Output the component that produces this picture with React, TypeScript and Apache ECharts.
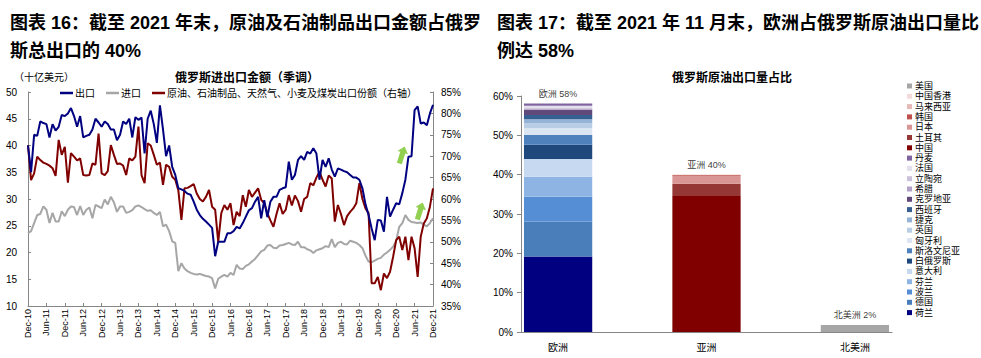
import React, { useEffect, useRef } from "react";
import * as echarts from "echarts";

// ---------- Chart 16 data (monthly, Dec-10 .. Dec-21) ----------
const monthNames = ["Jan", "Feb", "Mar", "Apr", "May", "Jun", "Jul", "Aug", "Sep", "Oct", "Nov", "Dec"];
const months: string[] = [];
for (let i = 0; i < 133; i++) {
  const mi = (11 + i) % 12;
  const yr = 10 + Math.floor((11 + i) / 12);
  months.push(monthNames[mi] + "-" + String(yr).padStart(2, "0"));
}

const exportsBn = [
  40, 35, 42, 41.8, 44.5, 44.2, 44, 41.5, 44, 42.8, 43.5, 45.7,
  45.5, 46, 47, 45.5, 43.5, 45.5, 41.5, 41.8, 42, 43, 45, 44.3,
  43.5, 44.5, 44, 43, 43, 41, 42, 44.5, 44, 45, 41.5, 45.3,
  44.8, 45.2, 38.5, 45, 46.5, 44, 40.5, 47.5, 43, 38, 40, 36,
  34.5, 32, 31.8, 31.5, 31, 30.8, 29.5, 28, 27, 26.3, 25.8, 25.2,
  24.6, 19.3, 22, 22, 22, 23.6, 23.6, 24, 24.8, 24.5, 25.5, 26.7,
  27.9, 28.3, 29.5, 30.4, 26.4, 29.8, 26.6, 29.5, 30.4, 30.4, 31.7, 32,
  32.2, 37, 33.6, 34.5, 37.3, 38, 37.3, 38.8, 38.5, 39.5, 38.5, 33.6,
  37.3, 36, 37.6, 35.5, 34.2, 35.7, 35.5, 35.2, 35, 34.5, 34, 34,
  33.6, 32, 29, 27, 24.5, 22.3, 26.1, 26, 23.9, 30.4, 26.7, 28,
  29.2, 29, 31.1, 33.6, 37.9, 38, 46.6, 47.3, 44.1, 44.3, 43.8, 46,
  47.6,
];

const importsBn = [
  23.6, 24, 25.5, 27, 27.2, 28.6, 28, 25.5, 27.4, 25.8, 25.8, 27.7,
  26.8, 28, 28.6, 28.5, 27, 28.7, 27, 28, 28.4, 26.4, 28.9, 28.6,
  28.3, 29.9, 29, 30.4, 29.4, 27.6, 28.6, 28.6, 27.4, 27.6, 27.9, 28.6,
  28.8, 28.5, 28.1, 27.8, 27.9, 27.4, 27, 27.6, 24.9, 25.2, 24, 22.1,
  21.8, 16.5, 18, 17, 16.5, 16.2, 16, 15.9, 16, 15.8, 15.6, 15.5,
  15.2, 13.3, 15.1, 15.5, 15.8, 15.5, 16.2, 15.8, 17.7, 17, 16.9, 17.5,
  17.8, 18.3, 18.8, 19.5, 20.2, 20.5, 21.3, 21.4, 20.9, 20.8, 21.3, 21.4,
  21.6, 21.8, 21.5, 21.4, 22, 21, 21, 20.6, 20.4, 19.9, 20.4, 20.6,
  20.8, 21.2, 21, 22.5, 21, 21.8, 22, 21.6, 21.5, 22.2, 22, 21.8,
  21.4, 20.8, 19.4, 18.3, 18.2, 18.5, 18.8, 19, 19.6, 20, 20.5, 21.1,
  22.2, 24.8, 25.5, 27, 26.1, 25.7, 25.6, 25.5, 25.6, 25.2, 24.9, 25.5,
  26.4,
];

const energyShare = [
  72.6, 64.4, 66, 69.9, 69.1, 68.5, 68.2, 67.8, 67.2, 65.4, 73.8, 70.3,
  72.2, 63.8, 70.7, 69.9, 69, 69.5, 65.6, 65.5, 65.6, 68.3, 68, 75.3,
  66, 65.6, 66.5, 72.6, 70.3, 68.2, 68.3, 67.8, 65.6, 69.5, 69, 69.9,
  76.9, 65.6, 63.7, 73, 72.5, 70.3, 68, 68.5, 63.3, 68, 67.5, 65.2,
  64.5, 62, 55.1, 62.5, 62.6, 63, 63.5, 61.3, 60, 59.4, 60.5, 62.1,
  58.2, 57.5, 50, 56.7, 58.6, 57.5, 59, 53.9, 57, 56, 60.9, 58.2,
  62.1, 60.5, 61.5, 62.5, 59.8, 59, 56.7, 55, 53.5, 56.5, 59, 56.5,
  57.5, 60.9, 58.5, 60.8, 59.5, 57, 60, 60.5, 63.7, 63.2, 65, 66.4,
  64.5, 62.9, 65.5, 64.8, 54.7, 58.6, 56.5, 53.9, 56, 57, 57.8, 59,
  63.7, 60, 57.8, 56.7, 40.3, 40.3, 41.8, 38.7, 42.6, 41.5, 43, 46.5,
  50.4, 51.2, 48.1, 51.2, 45.7, 51.2, 48.5, 41.8, 51.2, 54.3, 55.5, 58.2,
  62.5,
];

const seriesNames16 = ["出口", "进口", "原油、石油制品、天然气、小麦及煤炭出口份额（右轴）"];

// ---------- Chart 17 data (share of Russian crude exports, %) ----------
const regions = ["欧洲", " ", "亚洲", "  ", "北美洲"];
const regionTotalsLabel = [58, 40, 2];
const europeCountries = ["荷兰", "德国", "波兰", "芬兰", "意大利", "白俄罗斯", "斯洛文尼亚", "匈牙利", "英国", "捷克", "西班牙", "克罗地亚", "希腊", "立陶宛", "法国", "丹麦"];
const europeShares = [19.2, 8.9, 6.3, 5.1, 4.5, 3.6, 2.5, 1.7, 1.3, 1.0, 1.1, 1.3, 0.3, 0.3, 0.4, 0.6];
const asiaCountries = ["中国", "土耳其", "日本", "韩国", "马来西亚", "中国香港"];
const asiaShares = [34.6, 3.1, 2.0, 0.2, 0.1, 0.05];
const naCountries = ["美国"];
const naShares = [1.8];

const countryColors: Record<string, string> = {
  荷兰: "#000080", 德国: "#4A7EBB", 波兰: "#558ED5", 芬兰: "#8EB4E3", 意大利: "#C6D9F1",
  白俄罗斯: "#1F497D", 斯洛文尼亚: "#4F81BD", 匈牙利: "#DCE6F2", 英国: "#B9CDE5", 捷克: "#95B3D7",
  西班牙: "#366092", 克罗地亚: "#604A7B", 希腊: "#B3A2C7", 立陶宛: "#CCC1DA", 法国: "#E4DFEC",
  丹麦: "#8064A2", 中国: "#800000", 土耳其: "#953735", 日本: "#D99694", 韩国: "#C0504D",
  马来西亚: "#E6B9B8", 中国香港: "#F2DCDB", 美国: "#A6A6A6",
};

const FONT = "'Liberation Sans', Arial, 'Noto Sans CJK SC', sans-serif";
const AXIS_GREY = "#868686";

function arrow(x: number, y: number) {
  return {
    type: "polygon",
    x,
    y,
    rotation: -0.3,
    shape: { points: [[0, -9], [5.5, -2.5], [2.6, -2.5], [2.6, 9], [-2.6, 9], [-2.6, -2.5], [-5.5, -2.5]] },
    style: { fill: "#92D050" },
    z: 10,
  };
}

export default function App() {
  const ref = useRef<HTMLDivElement>(null);
  useEffect(() => {
    document.body.style.margin = "0";
    if (!ref.current) return;
    const chart = echarts.init(ref.current, undefined, { renderer: "svg" });

    const barSeries: any[] = [];
    const addGroup = (names: string[], vals: number[], idx: number) => {
      names.forEach((n, i) => {
        const data: any[] = regions.map(() => "-");
        data[idx] = vals[i];
        barSeries.push({
          type: "bar",
          name: n,
          xAxisIndex: 1,
          yAxisIndex: 2,
          stack: "share",
          barWidth: "92%",
          itemStyle: { color: countryColors[n] },
          data,
        });
      });
    };
    addGroup(europeCountries, europeShares, 0);
    addGroup(asiaCountries, asiaShares, 2);
    addGroup(naCountries, naShares, 4);

    const sum = (a: number[]) => a.reduce((s, v) => s + v, 0);
    const totals = [sum(europeShares), sum(asiaShares), sum(naShares)];
    const labelNames = [regions[0], regions[2], regions[4]];
    const labelSeries = {
      type: "scatter",
      xAxisIndex: 1,
      yAxisIndex: 2,
      symbolSize: 0,
      silent: true,
      data: [[0, totals[0]], [2, totals[1]], [4, totals[2]]],
      label: {
        show: true,
        position: "top",
        distance: 5,
        fontSize: 9,
        color: "#000",
        fontFamily: FONT,
        formatter: (p: any) => {
          const k = [0, 2, 4].indexOf(p.data[0]);
          return labelNames[k] + " " + regionTotalsLabel[k] + "%";
        },
      },
    };

    const legendOrder = [...naCountries, ...[...asiaCountries].reverse(), ...[...europeCountries].reverse()];

    const option: any = {
      animation: false,
      textStyle: { fontFamily: FONT, color: "#000" },
      title: [
        {
          text: "图表 16：截至 2021 年末，原油及石油制品出口金额占俄罗\n斯总出口的 40%",
          left: 5, top: 4,
          textStyle: { fontSize: 18, fontWeight: "bold", lineHeight: 28, color: "#000", fontFamily: FONT },
        },
        {
          text: "图表 17：截至 2021 年 11 月末，欧洲占俄罗斯原油出口量比\n例达 58%",
          left: 492, top: 4,
          textStyle: { fontSize: 18, fontWeight: "bold", lineHeight: 28, color: "#000", fontFamily: FONT },
        },
        { text: "俄罗斯进出口金额（季调）", left: 170, top: 67, textStyle: { fontSize: 12, fontWeight: "bold", color: "#000", fontFamily: FONT } },
        { text: "俄罗斯原油出口量占比", left: 667, top: 67, textStyle: { fontSize: 12, fontWeight: "bold", color: "#000", fontFamily: FONT } },
        { text: "（十亿美元）", left: 9, top: 67, textStyle: { fontSize: 10, fontWeight: "normal", color: "#000", fontFamily: FONT } },
      ],
      legend: [
        {
          data: seriesNames16,
          left: 55, top: 83,
          icon: "rect",
          itemWidth: 13, itemHeight: 2.5,
          itemGap: 11,
          textStyle: { fontSize: 10, color: "#000", fontFamily: FONT, padding: [0, 0, 0, -3] },
          selectedMode: false,
        },
        {
          data: legendOrder,
          orient: "vertical",
          left: 902, top: 76,
          icon: "rect",
          itemWidth: 5, itemHeight: 5,
          itemGap: 0.3,
          textStyle: { fontSize: 9, lineHeight: 10, color: "#000", fontFamily: FONT, padding: [0, 0, 0, -2] },
          selectedMode: false,
        },
      ],
      grid: [
        { left: 28, right: 548, top: 92, bottom: 52 },
        { left: 521, right: 89, top: 96, bottom: 26 },
      ],
      xAxis: [
        {
          type: "category", gridIndex: 0, data: months, boundaryGap: false,
          axisLine: { lineStyle: { color: AXIS_GREY } },
          axisTick: { interval: 5, inside: true, length: 3, lineStyle: { color: AXIS_GREY } },
          axisLabel: { interval: 5, rotate: 90, margin: 3, fontSize: 9, color: "#000", fontFamily: FONT },
        },
        {
          type: "category", gridIndex: 1, data: regions, boundaryGap: true,
          axisLine: { lineStyle: { color: AXIS_GREY } },
          axisTick: { length: 4, lineStyle: { color: AXIS_GREY } },
          axisLabel: { interval: 0, margin: 10, fontSize: 10, color: "#000", fontFamily: FONT },
        },
      ],
      yAxis: [
        {
          type: "value", gridIndex: 0, min: 10, max: 50, interval: 5,
          axisLine: { show: true, lineStyle: { color: AXIS_GREY } },
          axisTick: { show: true, inside: true, length: 3, lineStyle: { color: AXIS_GREY } },
          splitLine: { show: false },
          axisLabel: { margin: 11, fontSize: 10, color: "#000", fontFamily: FONT },
        },
        {
          type: "value", gridIndex: 0, min: 35, max: 85, interval: 5, position: "right",
          axisLine: { show: true, lineStyle: { color: AXIS_GREY } },
          axisTick: { show: true, inside: true, length: 3, lineStyle: { color: AXIS_GREY } },
          splitLine: { show: false },
          axisLabel: { margin: 8, fontSize: 10, color: "#000", fontFamily: FONT, formatter: "{value}%" },
        },
        {
          type: "value", gridIndex: 1, min: 0, max: 60, interval: 10,
          axisLine: { show: true, lineStyle: { color: AXIS_GREY } },
          axisTick: { show: true, length: 4, lineStyle: { color: AXIS_GREY } },
          splitLine: { show: false },
          axisLabel: { margin: 8, fontSize: 10, color: "#000", fontFamily: FONT, formatter: "{value}%" },
        },
      ],
      series: [
        {
          type: "line", name: seriesNames16[0], xAxisIndex: 0, yAxisIndex: 0, data: exportsBn,
          symbol: "none", lineStyle: { width: 2, color: "#000080" }, itemStyle: { color: "#000080" }, z: 4,
        },
        {
          type: "line", name: seriesNames16[1], xAxisIndex: 0, yAxisIndex: 0, data: importsBn,
          symbol: "none", lineStyle: { width: 2, color: "#A6A6A6" }, itemStyle: { color: "#A6A6A6" }, z: 2,
        },
        {
          type: "line", name: seriesNames16[2], xAxisIndex: 0, yAxisIndex: 1, data: energyShare,
          symbol: "none", lineStyle: { width: 2, color: "#800000" }, itemStyle: { color: "#800000" }, z: 3,
        },
        ...barSeries,
        labelSeries,
      ],
      graphic: [arrow(402, 155), arrow(420, 211)],
    };
    chart.setOption(option);
    return () => chart.dispose();
  }, []);
  return <div ref={ref} style={{ width: 981, height: 358 }} />;
}
